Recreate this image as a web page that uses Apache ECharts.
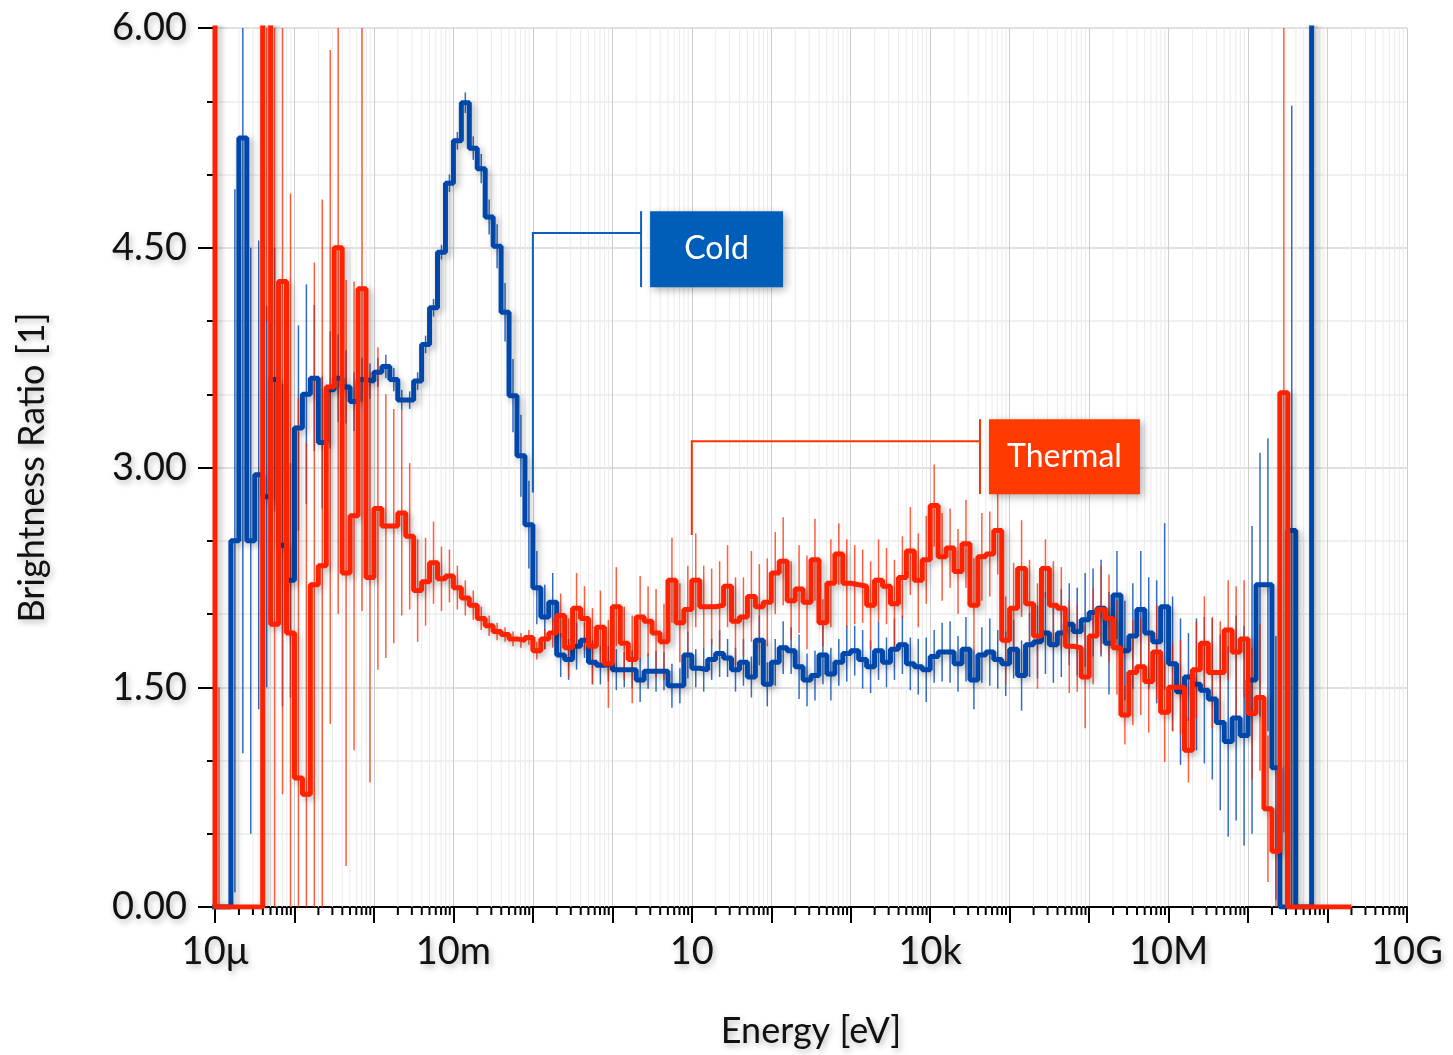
<!DOCTYPE html>
<html>
<head>
<meta charset="utf-8">
<script src="https://cdn.jsdelivr.net/npm/echarts@6/dist/echarts.min.js"></script>
<style>
  html, body { margin: 0; padding: 0; background: #fff; }
  #brightnessChart { width: 1453px; height: 1055px; }
</style>
</head>
<body>
<div id="brightnessChart"></div>
<script>
// histogram bins: 10 per decade, first listed bin starts at 10^-5.1 eV
const binsPerDecade = 10;
const firstBinExponent = -5.1;

// Cold / thermal brightness ratio per bin (bin -1 .. 138)
const coldRatio = [
  0, 0, 0, 2.5, 5.25, 2.5, 2.95, 2.8, 3.6, 2.47,
  2.23, 3.27, 3.5, 3.61, 3.17, 3.53, 3.61, 3.55, 3.45, 3.6,
  3.59, 3.65, 3.69, 3.6, 3.46, 3.46, 3.59, 3.84, 4.09, 4.47,
  4.94, 5.23, 5.49, 5.18, 5.04, 4.71, 4.51, 4.06, 3.49, 3.08,
  2.61, 2.18, 1.98, 2.08, 1.72, 1.69, 1.78, 1.82, 1.67, 1.65,
  1.66, 1.62, 1.62, 1.62, 1.55, 1.61, 1.61, 1.61, 1.51, 1.51,
  1.72, 1.63, 1.62, 1.69, 1.73, 1.7, 1.62, 1.67, 1.57, 1.82,
  1.52, 1.67, 1.77, 1.75, 1.64, 1.55, 1.58, 1.72, 1.59, 1.67,
  1.73, 1.75, 1.69, 1.64, 1.75, 1.67, 1.76, 1.79, 1.66, 1.64,
  1.62, 1.71, 1.74, 1.74, 1.66, 1.76, 1.55, 1.72, 1.74, 1.69,
  1.66, 1.76, 1.58, 1.79, 1.81, 1.87, 1.79, 1.87, 1.93, 1.88,
  1.96, 2.01, 2.04, 1.8, 2.13, 1.75, 1.85, 2.03, 1.87, 1.81,
  2.05, 1.66, 1.47, 1.57, 1.52, 1.48, 1.42, 1.26, 1.13, 1.29,
  1.17, 1.55, 2.2, 2.2, 0.95, 0, 2.57, 0, 0, 40
];
const coldError = [
  0, 0, 0, 2.4, 4.2, 2.0, 1.6, 1.3, 0.9, 1.1,
  0.8, 0.7, 0.75, 0.5, 0.45, 0.4, 0.3, 0.25, 0.2, 0.15,
  0.12, 0.1, 0.08, 0.08, 0.07, 0.06, 0.06, 0.06, 0.06, 0.05,
  0.06, 0.06, 0.07, 0.08, 0.1, 0.12, 0.15, 0.2, 0.25, 0.28,
  0.3, 0.25, 0.22, 0.2, 0.15, 0.14, 0.16, 0.12, 0.15, 0.13,
  0.12, 0.14, 0.12, 0.13, 0.15, 0.12, 0.14, 0.13, 0.15, 0.12,
  0.16, 0.13, 0.15, 0.14, 0.16, 0.13, 0.15, 0.16, 0.14, 0.17,
  0.15, 0.16, 0.18, 0.16, 0.22, 0.18, 0.17, 0.2, 0.18, 0.16,
  0.19, 0.17, 0.2, 0.18, 0.2, 0.17, 0.21, 0.2, 0.18, 0.19,
  0.22, 0.18, 0.2, 0.21, 0.19, 0.22, 0.2, 0.19, 0.23, 0.2,
  0.22, 0.2, 0.24, 0.22, 0.25, 0.28, 0.26, 0.3, 0.28, 0.3,
  0.32, 0.3, 0.33, 0.35, 0.3, 0.34, 0.36, 0.4, 0.38, 0.42,
  0.57, 0.46, 0.5, 0.3, 0.45, 0.5, 0.55, 0.6, 0.65, 0.7,
  0.75, 1.05, 0.9, 1.0, 0.9, 0, 2.9, 0, 0, 0
];

// bin -1 .. 142
const thermalRatio = [
  9, 0, 0, 0, 0, 0, 0, 8, 1.93, 4.27,
  1.87, 0.88, 0.77, 2.2, 2.33, 3.55, 4.5, 2.28, 2.67, 4.22,
  2.25, 2.72, 2.6, 2.6, 2.69, 2.53, 2.16, 2.22, 2.35, 2.24,
  2.26, 2.18, 2.11, 2.06, 1.97, 1.92, 1.88, 1.86, 1.83, 1.82,
  1.84, 1.75, 1.83, 1.87, 1.99, 1.77, 2.04, 1.97, 1.78, 1.91,
  1.66, 2.05, 1.8, 1.69, 1.98, 1.95, 1.87, 1.81, 2.23, 1.94,
  2.03, 2.23, 2.05, 2.05, 2.06, 2.19, 1.95, 1.98, 2.12, 2.05,
  2.08, 2.28, 2.36, 2.09, 2.17, 2.08, 2.37, 1.94, 2.21, 2.41,
  2.21, 2.2, 2.19, 2.06, 2.23, 2.19, 2.07, 2.25, 2.43, 2.23,
  2.37, 2.74, 2.39, 2.45, 2.29, 2.48, 2.06, 2.39, 2.41, 2.57,
  1.82, 2.04, 2.31, 2.07, 1.85, 2.31, 2.06, 2.04, 1.78, 1.77,
  1.57, 1.85, 2.03, 1.97, 1.77, 1.31, 1.6, 1.64, 1.54, 1.74,
  1.33, 1.5, 1.5, 1.07, 1.62, 1.8, 1.6, 1.6, 1.89, 1.74,
  1.83, 1.32, 1.43, 0.67, 0.38, 3.51, 0, 0, 0, 0,
  0, 0, 0, 0
];
const thermalError = [
  0, 1.5, 0, 0, 0, 0, 0, 4, 4.5, 3.5,
  3, 2.6, 2.4, 2.2, 2.5, 2.3, 2.5, 2.0, 1.6, 2.2,
  1.4, 1.1, 0.9, 0.8, 0.7, 0.5, 0.35, 0.3, 0.28, 0.22,
  0.18, 0.15, 0.12, 0.1, 0.08, 0.07, 0.06, 0.05, 0.05, 0.05,
  0.05, 0.06, 0.07, 0.1, 0.15, 0.2, 0.24, 0.22, 0.26, 0.25,
  0.3, 0.27, 0.25, 0.3, 0.28, 0.24, 0.3, 0.26, 0.29, 0.27,
  0.3, 0.32, 0.28, 0.26, 0.3, 0.28, 0.3, 0.27, 0.31, 0.29,
  0.3, 0.28, 0.3, 0.27, 0.3, 0.32, 0.28, 0.16, 0.3, 0.21,
  0.3, 0.27, 0.25, 0.3, 0.28, 0.26, 0.3, 0.28, 0.3, 0.32,
  0.3, 0.28, 0.3, 0.27, 0.29, 0.3, 0.32, 0.3, 0.29, 0.3,
  0.3, 0.31, 0.33, 0.3, 0.36, 0.2, 0.3, 0.28, 0.32, 0.3,
  0.35, 0.33, 0.3, 0.3, 0.32, 0.2, 0.36, 0.33, 0.35, 0.32,
  0.34, 0.3, 0.32, 0.22, 0.33, 0.32, 0.38, 0.35, 0.34, 0.45,
  0.4, 0.45, 0.5, 0.5, 0.55, 3, 0, 0, 0, 0,
  0, 0, 0, 0
];

// axis labels
const xLabelExponents = [-5, -2, 1, 4, 7, 10];
const xLabelTexts = ["10\u03bc", "10m", "10", "10k", "10M", "10G"];
const yTickValues = [0, 1.5, 3, 4.5, 6];

// callouts: tip on the curve, elbow height, bar position, box top
const calloutLabels = ["Cold", "Thermal"];
const calloutTipEnergy = [0.1, 10];
const calloutTipValue = [2.83, 2.54];
const calloutElbowValue = [4.6, 3.18];
const calloutBarEnergy = [2.3, 42300];
const calloutTopValue = [4.75, 3.33];

const COLD = "#0047ab";
const THERMAL = "#ff2200";
const FONT = "Lato, 'Noto Sans', sans-serif";

const binEdge = (i) => Math.pow(10, firstBinExponent + i / binsPerDecade);
const binCenter = (i) => Math.pow(10, firstBinExponent + (i + 0.5) / binsPerDecade);

const stepData = (values) => {
  const pts = values.map((v, i) => [binEdge(i), v]);
  pts.push([binEdge(values.length), values[values.length - 1]]);
  return pts;
};
const errorData = (values, errors) =>
  values.map((v, i) => [binCenter(i), v, errors[i]]).filter((d) => d[2] > 0);

// minor decade ticks (2..9 x 10^d)
const minorTicks = [];
for (let d = -5; d < 10; d++) {
  for (let m = 2; m <= 9; m++) minorTicks.push([m * Math.pow(10, d)]);
}

const textShadow = {
  textShadowColor: "rgba(0,0,0,0.28)",
  textShadowBlur: 6,
  textShadowOffsetX: 2,
  textShadowOffsetY: 3,
};

let chart = null;

const errorBarItem = (color) => (params, api) => {
  const x = api.value(0);
  const v = api.value(1);
  const e = api.value(2);
  const p1 = api.coord([x, v - e]);
  const p2 = api.coord([x, v + e]);
  return {
    type: "line",
    shape: { x1: p1[0], y1: p1[1], x2: p2[0], y2: p2[1] },
    style: { stroke: color, lineWidth: 1.5 },
  };
};

const setOption = () => {
  chart.setOption({
    animation: false,
    backgroundColor: "#ffffff",
    grid: { left: 215, right: 46, top: 28, bottom: 148 },
    xAxis: {
      type: "log",
      logBase: 10,
      min: 1e-5,
      max: 1e10,
      interval: 1,
      name: "Energy [eV]",
      nameLocation: "middle",
      nameGap: 106,
      nameTextStyle: { color: "#111", fontSize: 36, fontFamily: FONT, ...textShadow },
      axisLine: { lineStyle: { color: "#000", width: 2 } },
      axisTick: { length: 16, lineStyle: { color: "#000", width: 2 } },
      axisLabel: {
        margin: 26,
        interval: 0,
        color: "#111",
        fontSize: 38,
        fontFamily: FONT,
        ...textShadow,
        formatter: (value) => {
          const idx = xLabelExponents.indexOf(Math.round(Math.log10(value)));
          return idx >= 0 ? xLabelTexts[idx] : "";
        },
      },
      splitLine: { show: true, lineStyle: { color: "#cdcdcd", width: 1 } },
    },
    yAxis: {
      type: "value",
      min: 0,
      max: 6,
      interval: 1.5,
      name: "Brightness Ratio [1]",
      nameLocation: "middle",
      nameGap: 165,
      nameTextStyle: { color: "#111", fontSize: 36, fontFamily: FONT, ...textShadow },
      axisLine: { show: true, lineStyle: { color: "#000", width: 2 } },
      axisTick: { length: 17, lineStyle: { color: "#000", width: 2 } },
      minorTick: { show: true, splitNumber: 3, length: 8, lineStyle: { color: "#000", width: 2 } },
      axisLabel: {
        margin: 28,
        color: "#111",
        fontSize: 38,
        fontFamily: FONT,
        ...textShadow,
        formatter: (value) => (yTickValues.includes(value) ? value.toFixed(2) : ""),
      },
      splitLine: { show: true, lineStyle: { color: "#d6d6d6", width: 1.5 } },
      minorSplitLine: { show: true, lineStyle: { color: "#ececec", width: 1.5 } },
    },
    series: [
      {
        type: "custom",
        name: "minor ticks",
        silent: true,
        clip: false,
        z: 1,
        data: minorTicks,
        encode: { x: 0 },
        renderItem: (params, api) => {
          const x = api.value(0);
          const bottom = api.coord([x, 0]);
          const top = api.coord([x, 6]);
          return {
            type: "group",
            children: [
              {
                type: "line",
                shape: { x1: bottom[0], y1: top[1], x2: bottom[0], y2: bottom[1] },
                style: { stroke: "#ebebeb", lineWidth: 1 },
              },
              {
                type: "line",
                shape: { x1: bottom[0], y1: bottom[1], x2: bottom[0], y2: bottom[1] + 8 },
                style: { stroke: "#000", lineWidth: 2 },
              },
            ],
          };
        },
      },
      {
        type: "custom",
        name: "Cold error",
        silent: true,
        clip: true,
        z: 3,
        data: errorData(coldRatio, coldError),
        encode: { x: 0, y: 1 },
        renderItem: errorBarItem("rgba(0,72,180,0.8)"),
      },
      {
        type: "custom",
        name: "Thermal error",
        silent: true,
        clip: true,
        z: 3,
        data: errorData(thermalRatio, thermalError),
        encode: { x: 0, y: 1 },
        renderItem: errorBarItem("rgba(255,40,0,0.75)"),
      },
      {
        type: "line",
        name: "Cold",
        step: "end",
        showSymbol: false,
        symbol: "none",
        clip: true,
        z: 5,
        data: stepData(coldRatio),
        lineStyle: {
          color: COLD,
          width: 5,
          shadowColor: "rgba(0,0,0,0.3)",
          shadowBlur: 7,
          shadowOffsetX: 3,
          shadowOffsetY: 3,
        },
      },
      {
        type: "line",
        name: "Thermal",
        step: "end",
        showSymbol: false,
        symbol: "none",
        clip: true,
        z: 6,
        data: stepData(thermalRatio),
        lineStyle: {
          color: THERMAL,
          width: 5,
          shadowColor: "rgba(0,0,0,0.3)",
          shadowBlur: 7,
          shadowOffsetX: 3,
          shadowOffsetY: 3,
        },
      },
    ],
  });
  drawCallouts();
};

const drawCallouts = () => {
  const boxW = [133, 151];
  const boxH = [76, 75];
  const lineColor = ["#0a5fbf", "#ff3300"];
  const boxColor = ["#005eb8", "#ff3a00"];
  const graphics = [];
  calloutLabels.forEach((label, i) => {
    const tip = chart.convertToPixel({ gridIndex: 0 }, [calloutTipEnergy[i], calloutTipValue[i]]);
    const elbow = chart.convertToPixel({ gridIndex: 0 }, [calloutTipEnergy[i], calloutElbowValue[i]]);
    const bar = chart.convertToPixel({ gridIndex: 0 }, [calloutBarEnergy[i], calloutTopValue[i]]);
    graphics.push({
      type: "polyline",
      z: 20,
      silent: true,
      shape: { points: [tip, elbow, [bar[0], elbow[1]]] },
      style: { stroke: lineColor[i], lineWidth: 2, fill: null },
    });
    graphics.push({
      type: "line",
      z: 20,
      silent: true,
      shape: { x1: bar[0], y1: bar[1], x2: bar[0], y2: bar[1] + boxH[i] },
      style: { stroke: lineColor[i], lineWidth: 2 },
    });
    graphics.push({
      type: "rect",
      z: 20,
      silent: true,
      shape: { x: bar[0] + 9, y: bar[1], width: boxW[i], height: boxH[i] },
      style: {
        fill: boxColor[i],
        shadowColor: "rgba(0,0,0,0.3)",
        shadowBlur: 8,
        shadowOffsetX: 3,
        shadowOffsetY: 3,
      },
    });
    graphics.push({
      type: "text",
      z: 21,
      silent: true,
      x: bar[0] + 9 + boxW[i] / 2,
      y: bar[1] + boxH[i] / 2,
      style: {
        text: label,
        fill: "#fff",
        font: "32px " + FONT,
        align: "center",
        verticalAlign: "middle",
      },
    });
  });
  chart.setOption({ graphic: graphics });
};

chart = echarts.init(document.getElementById("brightnessChart"));
setOption();
window.addEventListener("resize", () => {
  chart.resize();
  drawCallouts();
});
</script>
</body>
</html>
